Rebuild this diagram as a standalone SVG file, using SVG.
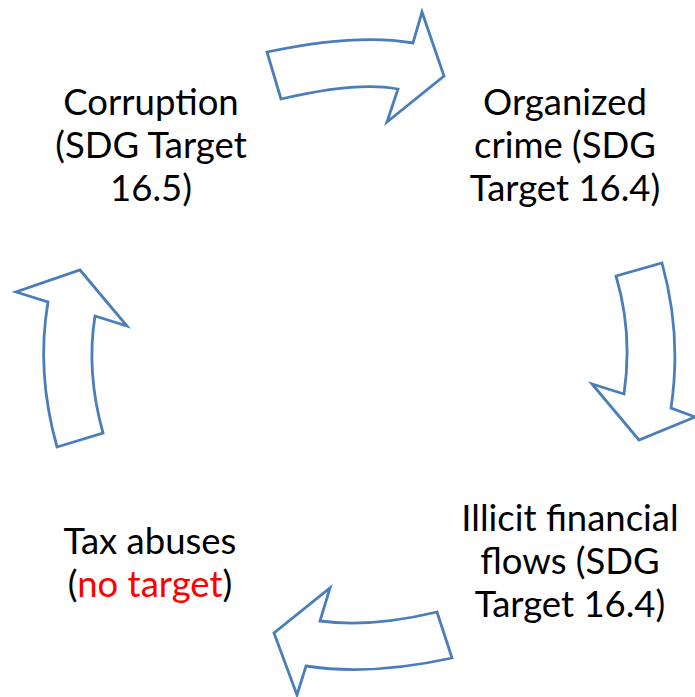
<svg xmlns="http://www.w3.org/2000/svg" width="695" height="697" viewBox="0 0 695 697">
  <style>
    .arrow { fill: #ffffff; stroke: #4a7ebb; stroke-width: 2.8; stroke-linejoin: miter; }
    .label { font-family: Lato, "Open Sans", "Liberation Sans", sans-serif; font-size: 36.5px; fill: #000000; text-anchor: middle; }
    .red { fill: #ff0000; }
  </style>
  <rect width="695" height="697" fill="#ffffff"/>

  <!-- curved block arrows forming the cycle -->
  <g id="connectors">
    <path id="arrow-top" class="arrow" d="M267,52 Q357,33 413,43 L422,12 L444,76 L387,122 L398,89 Q357,81 281,99 Z"/>
    <path id="arrow-right" class="arrow" d="M616,276 L662,263 Q682,335 671,408 L695,417 L639,440 L592,384 L624,394 Q633,333 616,276 Z"/>
    <path id="arrow-bottom" class="arrow" d="M437,612 Q370,628 320,621 L330,588 L274,633 L297,695 L306,666 Q370,676 452,658 Z"/>
    <path id="arrow-left" class="arrow" d="M57,447 L103,433 Q86,372 95,316 L127,326 L80,270 L16,292 L48,302 Q36,372 57,447 Z"/>
  </g>

  <g id="node-corruption">
    <text class="label" x="151" y="115">Corruption</text>
    <text class="label" x="151" y="158">(SDG Target</text>
    <text class="label" x="151" y="201">16.5)</text>
  </g>

  <g id="node-organized-crime">
    <text class="label" x="565" y="115">Organized</text>
    <text class="label" x="565" y="158">crime (SDG</text>
    <text class="label" x="565" y="201">Target 16.4)</text>
  </g>

  <g id="node-illicit-flows">
    <text class="label" x="570" y="531">Illicit financial</text>
    <text class="label" x="570" y="574">flows (SDG</text>
    <text class="label" x="570" y="617">Target 16.4)</text>
  </g>

  <g id="node-tax-abuses">
    <text class="label" x="150" y="554">Tax abuses</text>
    <text class="label" x="150" y="597">(<tspan class="red">no target</tspan>)</text>
  </g>
</svg>
